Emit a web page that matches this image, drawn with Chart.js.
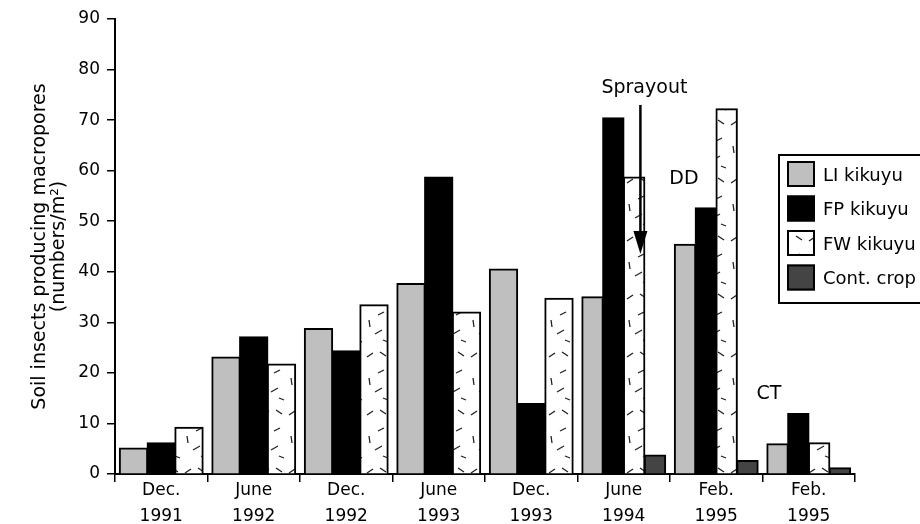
<!DOCTYPE html>
<html>
<head>
<meta charset="utf-8">
<script src="https://cdn.jsdelivr.net/npm/chart.js@4/dist/chart.umd.min.js"></script>
<style>
  body { margin: 0; background: #fff; }
</style>
</head>
<body>
<canvas id="chart" width="920" height="524"></canvas>
<script>
// sampling dates (two-line tick labels)
const dates = [
  ['Dec.', '1991'], ['June', '1992'], ['Dec.', '1992'], ['June', '1993'],
  ['Dec.', '1993'], ['June', '1994'], ['Feb.', '1995'], ['Feb.', '1995']
];
const liKikuyu = [5.1, 23.1, 28.7, 37.6, 40.5, 35.0, 45.4, 5.9];
const fpKikuyu = [6.1, 27.1, 24.3, 58.7, 13.9, 70.4, 52.6, 11.9];
const fwKikuyu = [9.2, 21.7, 33.4, 32.0, 34.7, 58.7, 72.2, 6.1];
const contCrop = [null, null, null, null, null, 3.7, 2.6, 1.2];
const yTicks = [0, 10, 20, 30, 40, 50, 60, 70, 80, 90];

const FONT = 'DejaVu Sans';

// white fill with scattered short dashes for FW kikuyu
function makeDashPattern() {
  const c = document.createElement('canvas');
  c.width = 26; c.height = 58;
  const g = c.getContext('2d');
  g.fillStyle = '#fff';
  g.fillRect(0, 0, c.width, c.height);
  g.strokeStyle = '#222';
  g.lineWidth = 1.3;
  const dashes = [[3, 9, 9, 5], [16, 4, 22, 8], [20, 22, 14, 25], [5, 30, 6, 37], [11, 44, 18, 40], [19, 50, 24, 52]];
  dashes.forEach(d => {
    g.beginPath();
    g.moveTo(d[0], d[1]);
    g.lineTo(d[2], d[3]);
    g.stroke();
  });
  return g.createPattern(c, 'repeat');
}

const dashFill = makeDashPattern();

// text notes + arrow, placed with the chart scales
const notesPlugin = {
  id: 'notes',
  afterDatasetsDraw(chart) {
    const { ctx, scales: { x, y } } = chart;
    ctx.save();
    ctx.fillStyle = '#000';
    ctx.font = '19px "' + FONT + '"';
    ctx.textAlign = 'center';
    ctx.textBaseline = 'middle';

    const ax = x.getPixelForValue(5.18);
    ctx.fillText('Sprayout', ax + 4, y.getPixelForValue(76.3));
    const top = y.getPixelForValue(73);
    const tip = y.getPixelForValue(43.5);
    ctx.strokeStyle = '#000';
    ctx.lineWidth = 2.5;
    ctx.beginPath();
    ctx.moveTo(ax, top);
    ctx.lineTo(ax, tip - 18);
    ctx.stroke();
    ctx.beginPath();
    ctx.moveTo(ax - 7, tip - 23);
    ctx.lineTo(ax + 7, tip - 23);
    ctx.lineTo(ax, tip);
    ctx.closePath();
    ctx.fill();

    ctx.fillText('DD', x.getPixelForValue(5.65), y.getPixelForValue(58.3));
    ctx.fillText('CT', x.getPixelForValue(6.57), y.getPixelForValue(15.8));
    ctx.restore();
  },
  afterDraw(chart) {
    // legend box, partly running off the right edge like the original
    const { ctx } = chart;
    ctx.save();
    ctx.lineWidth = 2;
    ctx.strokeStyle = '#000';
    ctx.fillStyle = '#fff';
    ctx.fillRect(779, 155, 160, 148);
    ctx.strokeRect(779, 155, 160, 148);
    ctx.font = '18px "' + FONT + '"';
    ctx.textBaseline = 'middle';
    chart.data.datasets.forEach((ds, i) => {
      const top = 161 + i * 34.5;
      ctx.fillStyle = ds.backgroundColor;
      ctx.fillRect(787, top, 28, 26);
      ctx.lineWidth = 2;
      ctx.strokeStyle = '#000';
      ctx.strokeRect(788, top + 1, 26, 24);
      ctx.fillStyle = '#000';
      ctx.fillText(ds.label, 823, top + 15);
    });
    ctx.restore();
  }
};

function drawChart() {
  const el = document.getElementById('chart');
  new Chart(el, {
    type: 'bar',
    data: {
      labels: dates,
      datasets: [
        { label: 'LI kikuyu', data: liKikuyu, backgroundColor: '#bfbfbf', borderColor: '#000', borderWidth: 2 },
        { label: 'FP kikuyu', data: fpKikuyu, backgroundColor: '#000', borderColor: '#000', borderWidth: 2 },
        { label: 'FW kikuyu', data: fwKikuyu, backgroundColor: dashFill, borderColor: '#000', borderWidth: 2 },
        { label: 'Cont. crop', data: contCrop, backgroundColor: '#444', borderColor: '#000', borderWidth: 2 }
      ]
    },
    options: {
      responsive: false,
      animation: false,
      devicePixelRatio: 1,
      datasets: {
        // neighbouring bars touch, as in the original figure
        bar: { skipNull: true, categoryPercentage: 0.9, barPercentage: 1, inflateAmount: 0.8 }
      },
      layout: { padding: { top: 19, right: 65, bottom: 0, left: 0 } },
      plugins: { legend: { display: false }, tooltip: { enabled: false } },
      scales: {
        x: {
          grid: { drawOnChartArea: false, color: '#000', tickLength: 8, lineWidth: 1.5 },
          border: { color: '#000', width: 2 },
          ticks: {
            color: '#000', padding: -4, maxRotation: 0, autoSkip: false,
            font: { family: FONT, size: 17, lineHeight: 1.5 }
          },
          afterFit(scale) { scale.height = 50; }
        },
        y: {
          min: 0,
          max: 90,
          afterBuildTicks(scale) { scale.ticks = yTicks.map(v => ({ value: v })); },
          grid: { drawOnChartArea: false, color: '#000', tickLength: 8, lineWidth: 1.5 },
          border: { color: '#000', width: 2 },
          ticks: { color: '#000', padding: 7, font: { family: FONT, size: 17 } },
          title: {
            display: true,
            text: ['Soil insects producing macropores', '(numbers/m²)'],
            color: '#000',
            font: { family: FONT, size: 19, lineHeight: 0.98 },
            padding: { top: 31, bottom: 0 }
          },
          afterFit(scale) { scale.width = 115; }
        }
      }
    },
    plugins: [notesPlugin]
  });
}

drawChart();
</script>
</body>
</html>
